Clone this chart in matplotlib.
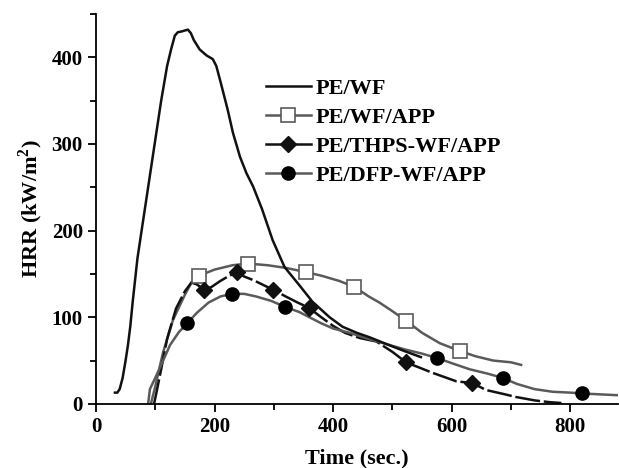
import numpy as np
import matplotlib
matplotlib.use("Agg")
import matplotlib.pyplot as plt
from matplotlib.ticker import MultipleLocator

plt.rcParams['font.family'] = ['Liberation Serif', 'DejaVu Serif']
plt.rcParams['font.weight'] = 'bold'
plt.rcParams['mathtext.fontset'] = 'custom'
plt.rcParams['mathtext.rm'] = 'Liberation Serif:bold'
plt.rcParams['mathtext.bf'] = 'Liberation Serif:bold'

# PE/WF
wf_t = [32, 36, 40, 45, 50, 54, 58, 62, 70, 77, 88, 99, 110, 120, 127, 133, 138,
        145, 155, 160, 165, 175, 187, 197, 203, 210, 222, 231, 243, 254, 265, 280,
        298, 318, 343, 365, 394, 416, 440, 461, 490, 520, 548]
wf_hrr = [13, 13, 17, 30, 50, 68, 90, 118, 168, 200, 250, 300, 350, 390, 410, 425, 429,
          430, 432, 428, 420, 409, 402, 398, 390, 372, 340, 313, 285, 266, 251, 225,
          189, 158, 137, 118, 100, 89, 82, 77, 69, 61, 54]

# PE/WF/APP
app_t = [93, 100, 113, 130, 150, 161, 174, 200, 230, 256, 290, 320, 355, 380,
         410, 436, 460, 478, 500, 523, 550, 580, 614, 640, 670, 700, 717]
app_hrr = [1, 20, 59, 97, 126, 140, 148, 155, 160, 162, 160, 157, 152, 148,
           142, 135, 124, 117, 107, 96, 82, 70, 61, 55, 50, 48, 45]
app_mk_t = [174, 256, 355, 436, 523, 614]
app_mk_hrr = [148, 162, 152, 135, 96, 61]

# PE/THPS-WF/APP
thps_t = [98, 102, 110, 120, 135, 150, 161, 170, 182, 195, 210, 225, 238, 250,
          265, 280, 298, 320, 340, 359, 380, 400, 420, 445, 473, 500, 523, 545,
          567, 608, 635, 658, 690, 708, 740, 765, 785]
thps_hrr = [0, 13, 40, 75, 110, 130, 140, 138, 132, 135, 142, 148, 152, 147,
            143, 138, 132, 124, 117, 111, 100, 90, 82, 76, 72, 60, 48, 42,
            36, 26, 24, 16, 11, 8, 4, 2, 1]
thps_mk_t = [182, 238, 298, 359, 523, 635]
thps_mk_hrr = [132, 152, 132, 111, 48, 24]

# PE/DFP-WF/APP
dfp_t = [88, 91, 100, 110, 125, 140, 154, 170, 190, 210, 229, 250, 270, 295,
         319, 343, 360, 380, 400, 428, 460, 490, 520, 550, 575, 600, 630, 660,
         686, 710, 740, 770, 800, 820, 850, 880]
dfp_hrr = [0, 17, 30, 45, 68, 83, 93, 105, 117, 124, 127, 127, 124, 119,
           112, 106, 100, 93, 87, 82, 75, 69, 63, 58, 53, 47, 40, 35,
           30, 23, 17, 14, 13, 12, 11, 10]
dfp_mk_t = [154, 229, 319, 575, 686, 820]
dfp_mk_hrr = [93, 127, 112, 53, 30, 12]

dark = '#111111'
grey = '#5a5a5a'

fig = plt.figure(figsize=(6.19, 4.68), dpi=100)
ax = fig.add_axes([0.155, 0.137, 0.843, 0.833])

ax.plot(wf_t, wf_hrr, color=dark, lw=1.8, zorder=3)
ax.plot(app_t, app_hrr, color=grey, lw=1.8)
ax.plot(app_mk_t, app_mk_hrr, ls='none', marker='s', ms=9.5, mfc='white',
        mec=grey, mew=1.2, zorder=4)
ax.plot(thps_t, thps_hrr, color=dark, lw=1.8, dashes=(10, 1.5))
ax.plot(thps_mk_t, thps_mk_hrr, ls='none', marker='D', ms=8, color=dark, zorder=4)
ax.plot(dfp_t, dfp_hrr, color=grey, lw=1.8)
ax.plot(dfp_mk_t, dfp_mk_hrr, ls='none', marker='o', ms=9.5, color='black', zorder=4)

# legend proxies
h1, = ax.plot([], [], color=dark, lw=1.8)
h2, = ax.plot([], [], color=grey, lw=1.8, marker='s', ms=9.5, mfc='white', mec=grey, mew=1.2)
h3, = ax.plot([], [], color=dark, lw=1.8, marker='D', ms=8)
h4, = ax.plot([], [], color=grey, lw=1.8, marker='o', ms=9.5, mfc='black', mec='black')
ax.legend([h1, h2, h3, h4], ['PE/WF', 'PE/WF/APP', 'PE/THPS-WF/APP', 'PE/DFP-WF/APP'],
          loc='upper left', bbox_to_anchor=(0.305, 0.864), frameon=False,
          prop={'size': 16, 'weight': 'bold'}, handlelength=2.0,
          handletextpad=0.22, labelspacing=0.38, borderpad=0)

ax.set_xlim(0, 880)
ax.set_ylim(0, 450)
ax.xaxis.set_major_locator(MultipleLocator(200))
ax.xaxis.set_minor_locator(MultipleLocator(100))
ax.yaxis.set_major_locator(MultipleLocator(100))
ax.yaxis.set_minor_locator(MultipleLocator(50))
ax.spines['top'].set_visible(False)
ax.spines['right'].set_visible(False)
for s in ('left', 'bottom'):
    ax.spines[s].set_linewidth(1.3)
ax.tick_params(which='major', direction='out', length=6, width=1.3, labelsize=15)
ax.tick_params(which='minor', direction='out', length=4, width=1.3)
for lbl in ax.get_xticklabels() + ax.get_yticklabels():
    lbl.set_fontweight('bold')

ax.set_xlabel('Time (sec.)', fontsize=16, fontweight='bold', labelpad=8)
ax.set_ylabel(r'HRR (kW/m$^{\mathbf{2}}$)', fontsize=16, fontweight='bold', labelpad=5)

fig.savefig('out.png', dpi=100)
